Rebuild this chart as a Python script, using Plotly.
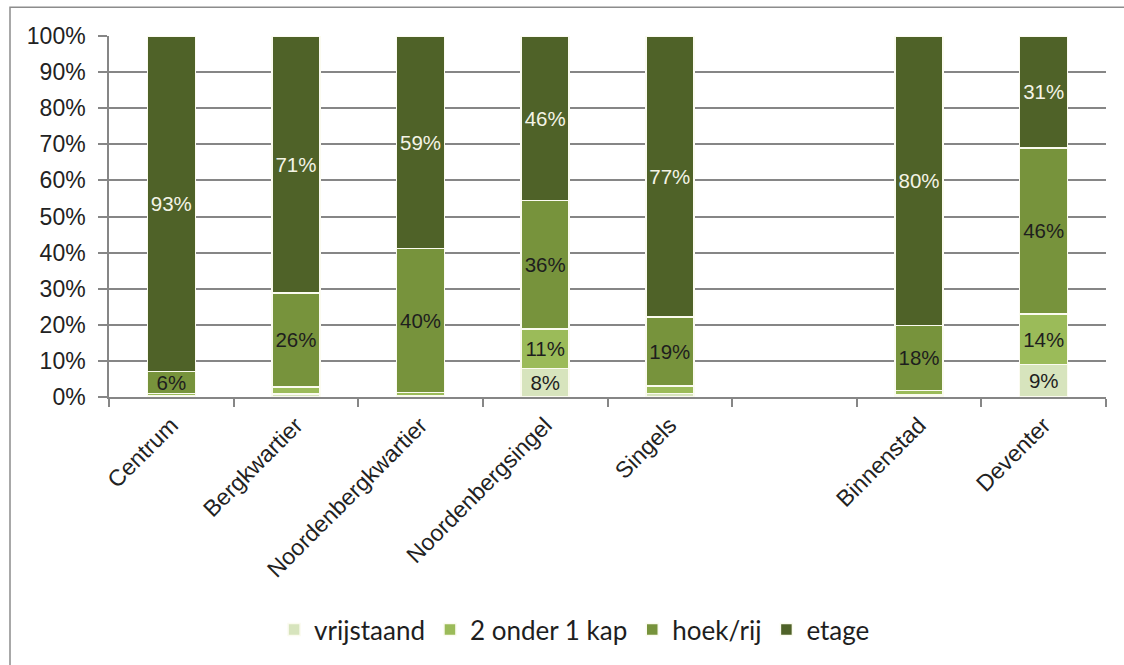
import plotly.graph_objects as go

# Woningtype per buurt (aandeel in %)
categories = ["Centrum", "Bergkwartier", "Noordenbergkwartier", "Noordenbergsingel",
              "Singels", " ", "Binnenstad", "Deventer"]
vrijstaand = [0.3, 0.8, 0.3, 8, 1, None, 0.6, 9]
onder_een_kap = [0.7, 2, 1, 11, 2, None, 1.2, 14]
hoek_rij = [6, 26, 40, 36, 19, None, 18, 46]
etage = [93, 71, 59, 46, 77, None, 80, 31]

series = [
    ("vrijstaand", vrijstaand, "#d7e4bd", "#1e1e1e"),
    ("2 onder 1 kap", onder_een_kap, "#9bbb59", "#1e1e1e"),
    ("hoek/rij", hoek_rij, "#77933c", "#1e1e1e"),
    ("etage", etage, "#4f6228", "#f4f4e6"),
]

tick_vals = list(range(0, 101, 10))
tick_text = [f"{v}%" for v in tick_vals]

FONT = "Arial, 'Liberation Sans', sans-serif"
LEGEND_FONT = "Lato, sans-serif"

fig = go.Figure()
for name, values, color, txtcolor in series:
    labels = [f"{v:g}%" if (v is not None and v >= 5) else "" for v in values]
    fig.add_trace(go.Bar(
        name=name,
        x=categories,
        y=values,
        text=labels,
        texttemplate="%{text}",
        textposition="inside",
        insidetextanchor="middle",
        textangle=0,
        constraintext="none",
        textfont=dict(family=FONT, size=20.5, color=txtcolor),
        marker=dict(color=color, line=dict(color="#fbfbf0", width=1.5)),
        hoverinfo="skip",
    ))

# gray frame of the chart area
px2x = lambda px: (px - 109) / 997
py2y = lambda py: (399 - py) / 363
fig.add_shape(type="rect", xref="paper", yref="paper",
              x0=px2x(10), x1=px2x(1140), y0=py2y(690), y1=py2y(7),
              line=dict(color="#8c8c8c", width=1.5), fillcolor="rgba(0,0,0,0)",
              layer="below")

fig.update_layout(
    width=1124, height=665,
    margin=dict(l=109, r=18, t=36, b=266),
    paper_bgcolor="white", plot_bgcolor="white",
    barmode="stack", barnorm="percent", bargap=0.615,
    uniformtext=dict(minsize=20.5, mode="show"),
    showlegend=True,
    legend=dict(orientation="h", x=0.467, xanchor="center", y=py2y(633), yanchor="middle",
                font=dict(family=LEGEND_FONT, size=26, color="#1e1e1e"),
                traceorder="normal", itemclick=False),
    font=dict(family=FONT, size=20, color="#262626"),
)
fig.update_xaxes(
    type="category", categoryorder="array", categoryarray=categories,
    showline=True, linecolor="#868686", linewidth=1.5,
    ticks="outside", tickson="boundaries", ticklen=8, tickcolor="#868686", tickwidth=1.5,
    tickangle=-45, ticklabelstandoff=4,
    tickfont=dict(family=FONT, size=23, color="#222222"),
    showgrid=False, fixedrange=True,
)
fig.update_yaxes(
    range=[0, 100], tickvals=tick_vals, ticktext=tick_text,
    showline=True, linecolor="#868686", linewidth=1.5,
    ticks="outside", ticklen=9, tickcolor="#868686", tickwidth=1.5,
    ticklabelstandoff=8,
    showgrid=True, gridcolor="#868686", gridwidth=1.5, zeroline=False,
    tickfont=dict(family=FONT, size=23, color="#222222"), fixedrange=True,
)

fig.write_html("out.html")
